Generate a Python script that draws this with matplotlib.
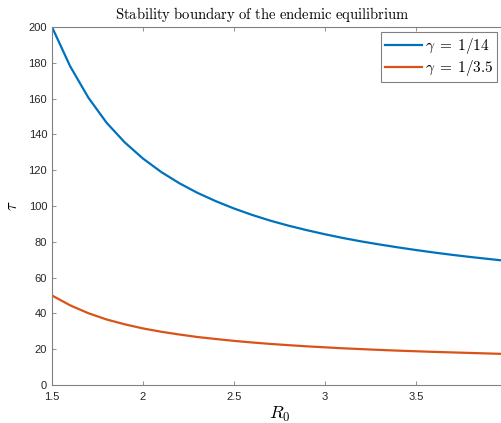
import numpy as np
import matplotlib
matplotlib.use("Agg")
import matplotlib.pyplot as plt

# R0 grid and stability boundary values
r0 = [1.5, 1.6, 1.7, 1.8, 1.9, 2.0, 2.1, 2.2, 2.3, 2.4, 2.5, 2.6, 2.7,
      2.8, 2.9, 3.0, 3.1, 3.2, 3.3, 3.4, 3.5, 3.6, 3.7, 3.8, 3.9, 4.0]
tau_14 = [200, 178, 160.5, 146.5, 135.5, 126.5, 119, 112.7, 107.3, 102.7, 98.6, 95,
          91.8, 89, 86.5, 84.2, 82.1, 80.2, 78.5, 76.9, 75.4, 74, 72.7, 71.5, 70.4, 69.3]
tau_35 = [50, 44.5, 40.1, 36.6, 33.9, 31.6, 29.75, 28.2, 26.8, 25.7, 24.65, 23.75,
          22.95, 22.25, 21.6, 21.05, 20.5, 20.05, 19.6, 19.2, 18.85, 18.5, 18.2, 17.9, 17.6, 17.3]

plt.rcParams["mathtext.fontset"] = "cm"
plt.rcParams["font.family"] = ["Liberation Sans", "DejaVu Sans"]

fig = plt.figure(figsize=(5.01, 4.23), dpi=100)
ax = fig.add_axes([52 / 501, 1 - 385 / 423, 455 / 501, 358 / 423])

ax.plot(r0, tau_14, color="#0072BD", lw=1.6, label=r"$\gamma \;=\; 1/14$")
ax.plot(r0, tau_35, color="#D95319", lw=1.6, label=r"$\gamma \;=\; 1/3.5$")

ax.set_xlim(1.5, 4)
ax.set_ylim(0, 200)
ax.set_xticks([1.5, 2, 2.5, 3, 3.5])
ax.set_xticklabels(["1.5", "2", "2.5", "3", "3.5"])
ax.set_yticks(range(0, 201, 20))

for s in ax.spines.values():
    s.set_color("#808080")
    s.set_linewidth(0.8)
ax.tick_params(direction="in", length=3, width=0.6, colors="#808080",
               labelcolor="#262626", labelsize=8, top=True, right=True)
ax.tick_params(axis="x", pad=5)

ax.set_xlabel(r"$R_0$", fontsize=13, labelpad=2)
ax.set_ylabel(r"$\tau$", fontsize=12, labelpad=6)
ax.set_title(r"$\mathrm{Stability\ boundary\ of\ the\ endemic\ equilibrium}$",
             fontsize=10.5, x=0.462, pad=6)

leg = ax.legend(loc="upper right", bbox_to_anchor=(0.978, 0.985), fontsize=11,
                fancybox=False, framealpha=1, edgecolor="#808080",
                handlelength=2.4, handletextpad=0.2, borderpad=0.25,
                labelspacing=0.15, borderaxespad=0)
leg.get_frame().set_linewidth(0.8)

fig.savefig("out.png", dpi=100)
